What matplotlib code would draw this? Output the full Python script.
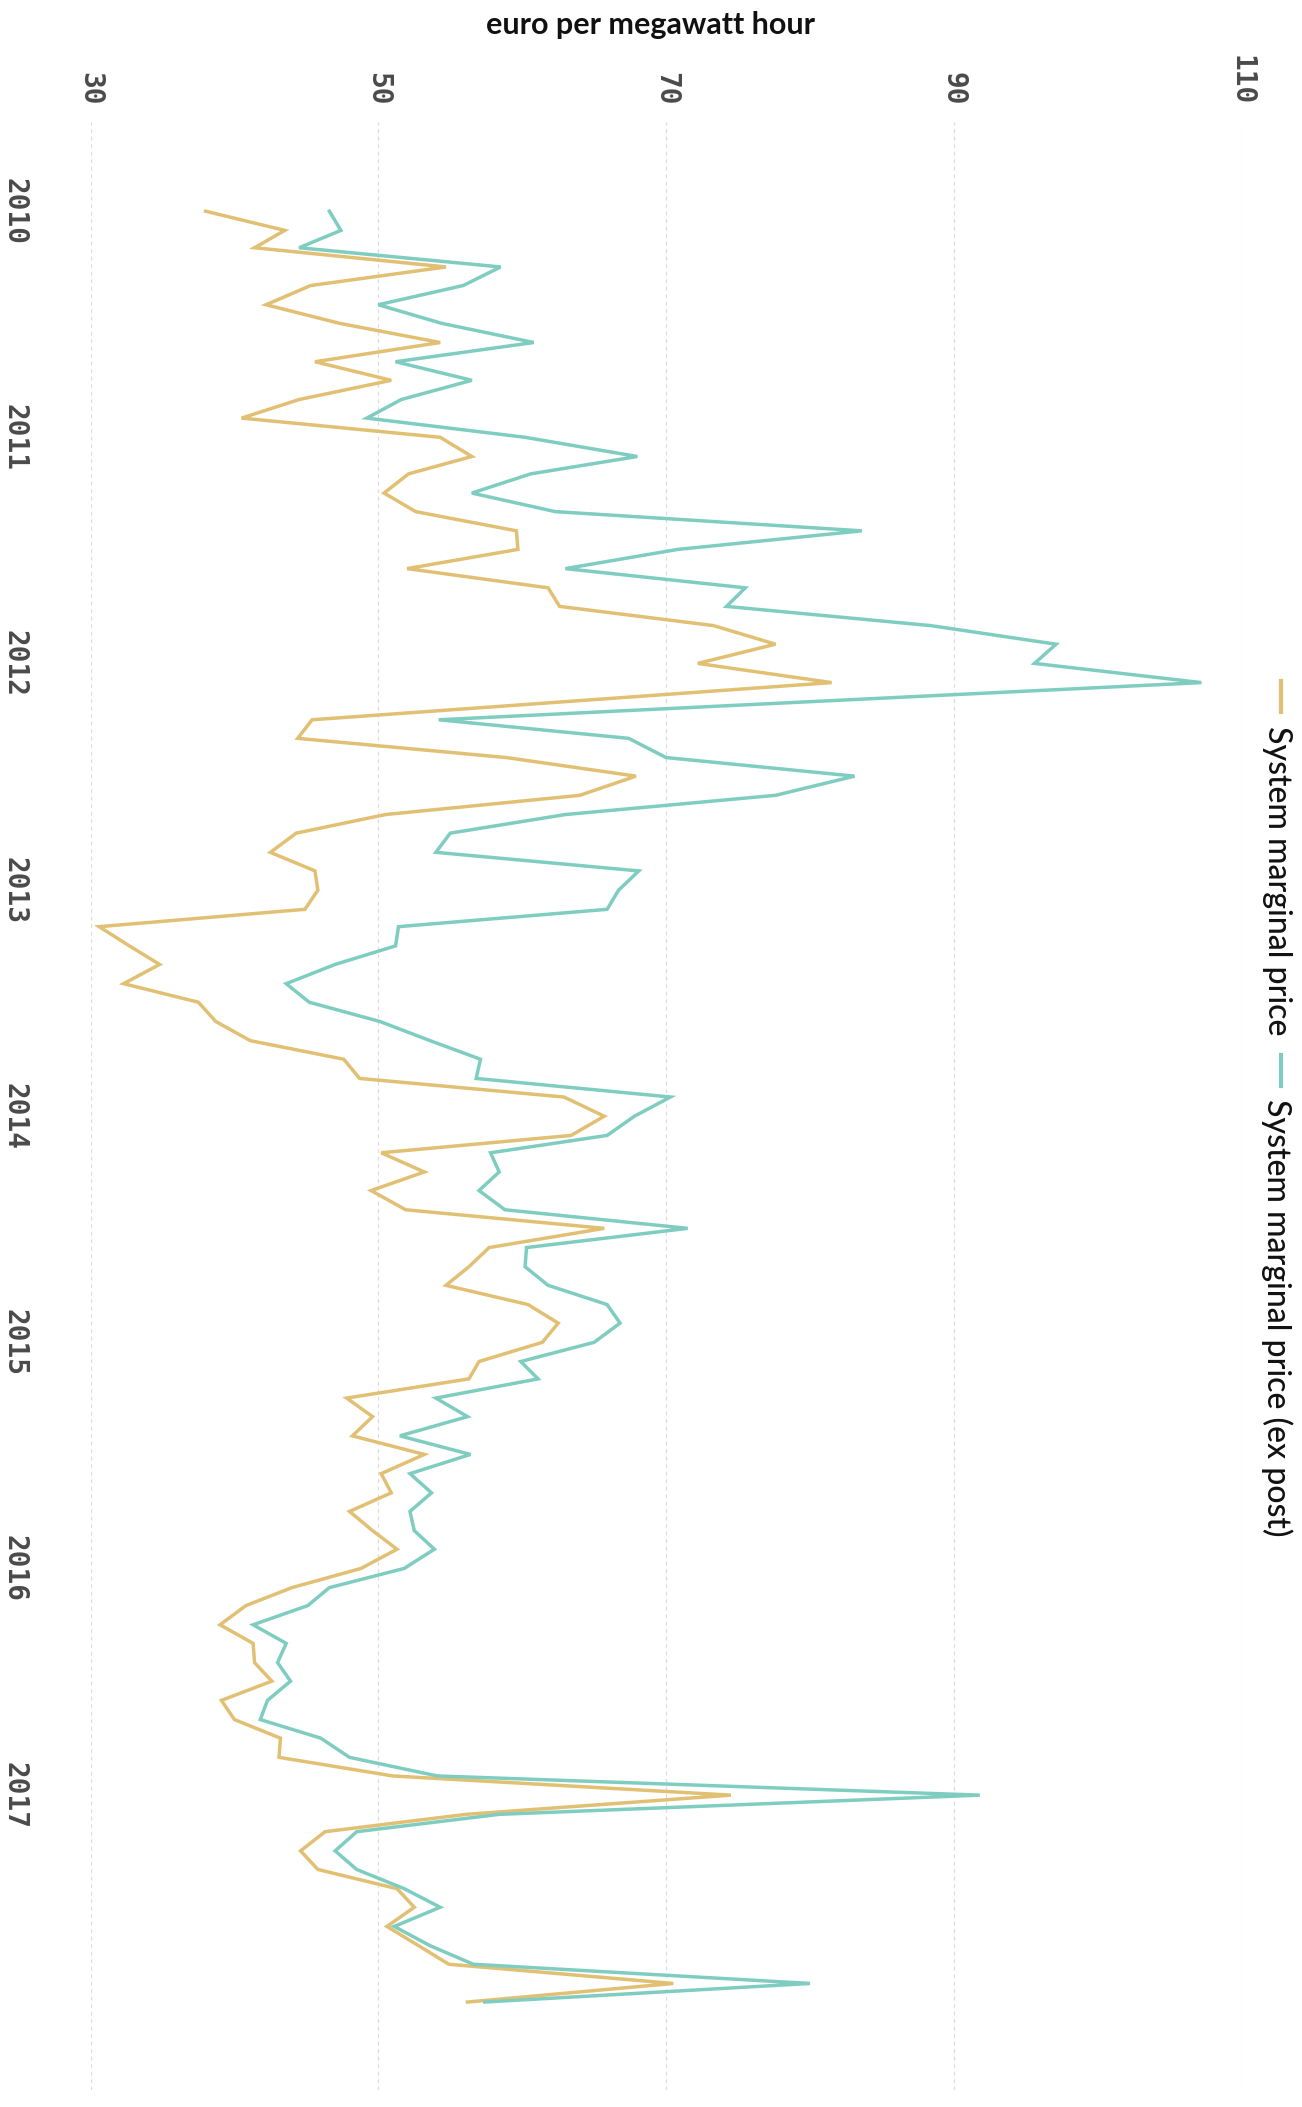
import matplotlib
matplotlib.use("Agg")
import matplotlib.pyplot as plt
import matplotlib.dates as mdates
from matplotlib.lines import Line2D
import numpy as np
import pandas as pd

# monthly values, Jan 2010 .. Dec 2017 (None = month not in the data)
months = pd.date_range("2010-01-01", periods=96, freq="MS")

smp = [
    38.0, 43.5, 41.4, 54.7, 45.3, 42.2, 47.3, 54.3, 45.6, 50.9, 44.5, 40.5,   # 2010
    54.3, 56.5, 52.1, 50.4, 52.6, 59.6, 59.7, 52.0, 61.8, 62.6, 73.3, 77.6,   # 2011
    72.2, 81.5, None, 45.4, 44.4, 58.9, 67.9, 64.0, 50.5, 44.3, 42.5, 45.6,   # 2012
    45.8, 44.9, 30.6, 32.7, 34.8, 32.3, 37.5, 38.7, 41.1, 47.6, 48.7, 62.9,   # 2013
    65.7, 63.4, 50.2, 53.2, 49.5, 51.9, 65.7, 57.7, 56.3, 54.7, 60.4, 62.5,   # 2014
    61.4, 57.0, 56.3, 47.8, 49.6, 48.2, 53.2, 50.2, 50.9, 48.0, 49.6, 51.3,   # 2015
    48.8, 44.0, 40.8, 39.0, 41.3, 41.4, 42.6, 39.1, 40.0, 43.2, 43.1, 51.0,   # 2016
    74.5, 56.1, 46.3, 44.6, 45.8, 51.3, 52.5, 50.6, 52.8, 54.9, 70.5, 56.2,   # 2017
]

smp_ex_post = [
    46.6, 47.4, 44.5, 58.5, 55.9, 50.0, 54.4, 60.8, 51.2, 56.5, 51.6, 49.2,
    60.2, 68.0, 60.6, 56.5, 62.3, 83.6, 70.8, 63.0, 75.5, 74.2, 88.4, 97.1,
    95.6, 107.2, None, 54.2, 67.4, 70.0, 83.1, 77.6, 63.0, 55.0, 54.0, 68.1,
    66.7, 65.9, 51.4, 51.2, 47.0, 43.6, 45.2, 50.1, 53.6, 57.1, 56.8, 70.3,
    67.8, 65.9, 57.8, 58.4, 57.0, 58.8, 71.5, 60.3, 60.2, 61.8, 65.9, 66.8,
    65.0, 59.9, 61.1, 54.0, 56.2, 51.5, 56.4, 52.2, 53.7, 52.2, 52.5, 53.9,
    51.8, 46.6, 45.1, 41.3, 43.6, 43.0, 43.9, 42.3, 41.8, 46.0, 48.0, 54.1,
    91.8, 58.4, 48.5, 47.0, 48.5, 51.8, 54.3, 51.1, 53.6, 56.6, 80.0, 57.4,
]

series_names = ["System marginal price", "System marginal price (ex post)"]
colors = ["#E1C074", "#7FCDC0"]
value_ticks = [30, 50, 70, 90, 110]
year_ticks = pd.date_range("2010-01-01", "2017-01-01", freq="YS")

W, H = 1302, 2107
fig = plt.figure(figsize=(W / 100, H / 100), dpi=100)
ax = fig.add_axes([90.5 / W, 1 - 2090 / H, 1151.2 / W, (2090 - 122) / H])

for vals, col in zip([smp, smp_ex_post], colors):
    s = pd.Series(vals, index=months, dtype=float).dropna()
    ax.plot(s.values, s.index, color=col, lw=2.5, solid_joinstyle="miter")

ax.set_xlim(30, 110)
ax.set_ylim(pd.Timestamp("2018-04-22"), pd.Timestamp("2009-08-10"))

ax.set_xticks(value_ticks)
ax.xaxis.tick_top()
ax.tick_params(axis="x", length=0, pad=12, labelsize=20, labelcolor="#4a4a4a")
for lab in ax.get_xticklabels():
    lab.set_rotation(-90)
    lab.set_fontfamily("DejaVu Sans Mono")
    lab.set_fontweight("bold")

ax.set_yticks(year_ticks)
ax.yaxis.set_major_formatter(mdates.DateFormatter("%Y"))
ax.tick_params(axis="y", length=0, pad=45, labelsize=20, labelcolor="#4a4a4a")
for lab in ax.get_yticklabels():
    lab.set_rotation(-90)
    lab.set_fontfamily("DejaVu Sans Mono")
    lab.set_fontweight("bold")
    lab.set_va("center")

ax.grid(axis="x", color="#dddddd", lw=0.9, ls=(0, (3, 3)))
ax.grid(axis="y", visible=False)
for sp in ax.spines.values():
    sp.set_visible(False)

fig.text(650 / W, 1 - 25 / H, "euro per megawatt hour", ha="center", va="center",
         fontsize=22, fontweight="bold", family="Lato", color="#111111")

# legend, rotated like the rest of the chart
leg_x = 1277
items = [(681, 712, 726), (1055, 1086, 1099)]
for (m0, m1, t0), name, col in zip(items, series_names, colors):
    fig.add_artist(Line2D([(leg_x + 4) / W] * 2, [1 - m0 / H, 1 - m1 / H],
                          transform=fig.transFigure, color=col, lw=3))
    fig.text(leg_x / W, 1 - t0 / H, name, rotation=-90, ha="center", va="top",
             fontsize=23, fontweight="medium", family="Lato", color="#111111")

fig.savefig("out.png", dpi=100, facecolor="white")
